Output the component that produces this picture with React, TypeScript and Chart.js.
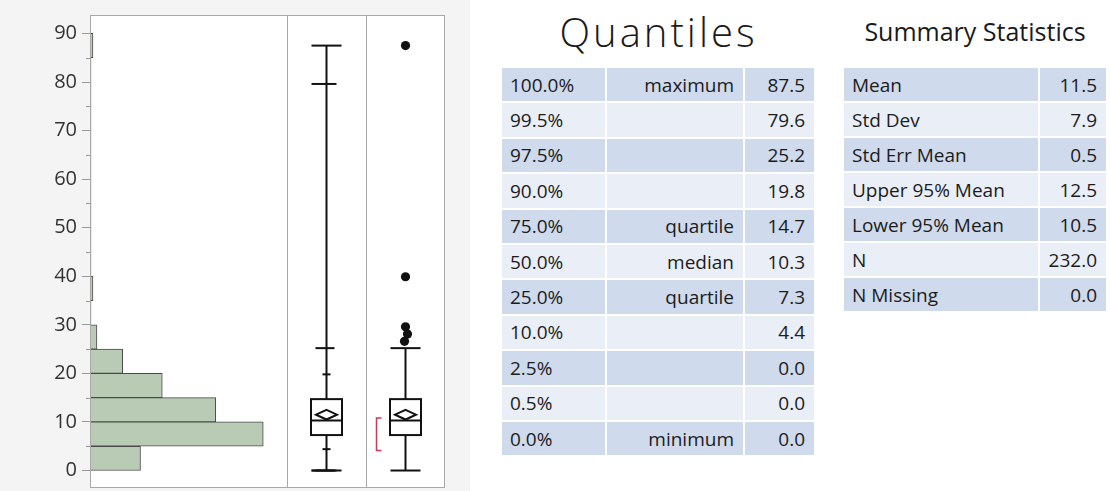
import React, { useEffect, useRef } from 'react';
import { Chart, registerables } from 'chart.js';

Chart.register(...registerables);

// Histogram bins (lower edge of each 5-unit bin) and their counts
const BIN_WIDTH = 5;
const binStarts = [0, 5, 10, 15, 20, 25, 30, 35, 40, 45, 50, 55, 60, 65, 70, 75, 80, 85];
const binCounts = [25, 87, 63, 36, 16, 3, 0, 1, 0, 0, 0, 0, 0, 0, 0, 0, 0, 1];

// Value axis
const yTickValues = [0, 10, 20, 30, 40, 50, 60, 70, 80, 90];
const yMinorTickValues = [5, 15, 25, 35, 45, 55, 65, 75, 85];
const Y_MIN = -3.6;
const Y_MAX = 93.8;
const COUNT_MAX = 99;

// Quantiles table
const quantileLevels = ['100.0%', '99.5%', '97.5%', '90.0%', '75.0%', '50.0%', '25.0%', '10.0%', '2.5%', '0.5%', '0.0%'];
const quantileNames = ['maximum', '', '', '', 'quartile', 'median', 'quartile', '', '', '', 'minimum'];
const quantileValues = [87.5, 79.6, 25.2, 19.8, 14.7, 10.3, 7.3, 4.4, 0.0, 0.0, 0.0];

// Summary statistics table
const summaryLabels = ['Mean', 'Std Dev', 'Std Err Mean', 'Upper 95% Mean', 'Lower 95% Mean', 'N', 'N Missing'];
const summaryValues = [11.5, 7.9, 0.5, 12.5, 10.5, 232.0, 0.0];

// Outlier box plot extras
const outlierValues = [87.5, 39.9, 29.6, 28.1, 26.6];
const whiskerLow = 0.0;
const whiskerHigh = 25.2;
const shortestHalf = [4.1, 10.8];

const q = (level: string) => quantileValues[quantileLevels.indexOf(level)];
const s = (label: string) => summaryValues[summaryLabels.indexOf(label)];

const PANEL_W = 79;
const FRAME = '#a8a8a8';
const INK = '#111111';

const panelPlugin = {
  id: 'distributionPanels',
  beforeDraw(chart: any) {
    const { ctx, chartArea, width, height } = chart;
    ctx.save();
    ctx.fillStyle = '#f4f4f4';
    ctx.fillRect(0, 0, width, height);
    ctx.fillStyle = '#ffffff';
    ctx.fillRect(chartArea.left, chartArea.top, chartArea.right - chartArea.left + 2 * PANEL_W, chartArea.bottom - chartArea.top);
    ctx.restore();
  },
  afterDraw(chart: any) {
    const { ctx, chartArea } = chart;
    const y = chart.scales.y;
    const L = chartArea.left;
    const T = chartArea.top;
    const B = chartArea.bottom;
    const p1L = chartArea.right;
    const p2L = p1L + PANEL_W;
    const R = p2L + PANEL_W;
    const py = (v: number) => y.getPixelForValue(v);

    ctx.save();
    // minor ticks on the value axis
    ctx.strokeStyle = '#9a9a9a';
    ctx.lineWidth = 1;
    yMinorTickValues.forEach((v) => {
      const yy = Math.round(py(v)) + 0.5;
      ctx.beginPath();
      ctx.moveTo(L - 5, yy);
      ctx.lineTo(L, yy);
      ctx.stroke();
    });

    // frame and panel dividers
    ctx.strokeStyle = FRAME;
    ctx.strokeRect(Math.round(L) - 0.5, Math.round(T) + 0.5, Math.round(R - L), Math.round(B - T) - 1);
    [p1L, p2L].forEach((x) => {
      ctx.beginPath();
      ctx.moveTo(Math.round(x) + 0.5, T);
      ctx.lineTo(Math.round(x) + 0.5, B);
      ctx.stroke();
    });

    ctx.strokeStyle = INK;
    ctx.fillStyle = INK;
    ctx.lineWidth = 2;
    const hline = (cx: number, v: number, left: number, right: number) => {
      const yy = py(v);
      ctx.beginPath();
      ctx.moveTo(cx - left, yy);
      ctx.lineTo(cx + right, yy);
      ctx.stroke();
    };
    const vline = (cx: number, v0: number, v1: number) => {
      ctx.beginPath();
      ctx.moveTo(cx, py(v0));
      ctx.lineTo(cx, py(v1));
      ctx.stroke();
    };
    const box = (cx: number) => {
      const top = py(q('75.0%'));
      const bot = py(q('25.0%'));
      ctx.fillStyle = '#ffffff';
      ctx.fillRect(cx - 15.5, top, 31, bot - top);
      ctx.strokeRect(cx - 15.5, top, 31, bot - top);
      hline(cx, q('50.0%'), 15.5, 15.5);
      // mean diamond spanning the 95% confidence interval
      const mTop = py(s('Upper 95% Mean'));
      const mBot = py(s('Lower 95% Mean'));
      const mMid = py(s('Mean'));
      ctx.beginPath();
      ctx.moveTo(cx, mTop);
      ctx.lineTo(cx + 10.5, mMid);
      ctx.lineTo(cx, mBot);
      ctx.lineTo(cx - 10.5, mMid);
      ctx.closePath();
      ctx.stroke();
    };

    // quantile box plot
    const c1 = (p1L + p2L) / 2;
    vline(c1, q('0.0%'), q('100.0%'));
    hline(c1, q('100.0%'), 15, 15);
    hline(c1, q('0.0%'), 15, 15);
    hline(c1, q('99.5%'), 15, 10);
    hline(c1, q('0.5%'), 15, 10);
    hline(c1, q('97.5%'), 11, 8);
    hline(c1, q('2.5%'), 11, 8);
    hline(c1, q('90.0%'), 4, 4);
    hline(c1, q('10.0%'), 4, 4);
    box(c1);

    // outlier box plot
    const c2 = (p2L + R) / 2;
    vline(c2, whiskerLow, whiskerHigh);
    hline(c2, whiskerHigh, 15, 15);
    hline(c2, whiskerLow, 15, 15);
    box(c2);
    const jitter = [0, 0, 0, 2, -1];
    ctx.fillStyle = INK;
    outlierValues.forEach((v, i) => {
      ctx.beginPath();
      ctx.arc(c2 + jitter[i], py(v), 4.6, 0, Math.PI * 2);
      ctx.fill();
    });

    // shortest half bracket
    ctx.strokeStyle = '#c8385c';
    ctx.lineWidth = 1.5;
    const bx = c2 - 29;
    ctx.beginPath();
    ctx.moveTo(bx + 5, py(shortestHalf[1]));
    ctx.lineTo(bx, py(shortestHalf[1]));
    ctx.lineTo(bx, py(shortestHalf[0]));
    ctx.lineTo(bx + 5, py(shortestHalf[0]));
    ctx.stroke();
    ctx.restore();
  },
};

const DARK = '#cfdaed';
const LIGHT = '#e9eef7';
const cellText: React.CSSProperties = {
  fontFamily: '"Open Sans", sans-serif',
  fontSize: 19,
  color: '#1c1c1c',
  display: 'flex',
  alignItems: 'center',
  padding: '0 9px 0 8px',
  whiteSpace: 'nowrap',
};

export default function App() {
  const ref = useRef<HTMLCanvasElement>(null);

  useEffect(() => {
    const canvas = ref.current!;
    const chart = new Chart(canvas, {
      type: 'bar',
      data: {
        datasets: [
          {
            data: binStarts.map((b, i) => ({ x: binCounts[i], y: b + BIN_WIDTH / 2 })),
            backgroundColor: '#b9cbb5',
            borderColor: '#4a4a4a',
            borderWidth: (c: any) => (binCounts[c.dataIndex] > 0 ? 1 : 0),
            barPercentage: 1,
            categoryPercentage: 1,
          } as any,
        ],
      },
      options: {
        indexAxis: 'y',
        animation: false,
        responsive: false,
        events: [],
        layout: { padding: { left: 0, top: 15, right: 470 - 287, bottom: 3 } },
        plugins: { legend: { display: false }, tooltip: { enabled: false } },
        scales: {
          x: { type: 'linear', min: 0, max: COUNT_MAX, display: false },
          y: {
            type: 'linear',
            min: Y_MIN,
            max: Y_MAX,
            offset: false,
            afterBuildTicks: (sc: any) => {
              sc.ticks = yTickValues.map((v) => ({ value: v }));
            },
            afterFit: (sc: any) => {
              sc.width = 91;
              sc.paddingTop = 0;
              sc.paddingBottom = 0;
            },
            grid: { offset: false, drawOnChartArea: false, drawTicks: true, tickLength: 9, color: '#9a9a9a' },
            border: { display: false },
            ticks: {
              font: { family: '"Open Sans", sans-serif', size: 20 },
              color: '#333333',
              padding: 5,
            },
          },
        },
      } as any,
      plugins: [panelPlugin],
    });
    return () => chart.destroy();
  }, []);

  return (
    <div style={{ position: 'absolute', left: 0, top: 0, width: 1110, height: 491, background: '#ffffff', overflow: 'hidden' }}>
      <canvas ref={ref} width={470} height={491} style={{ position: 'absolute', left: 0, top: 0 }} />

      <div
        style={{
          position: 'absolute',
          left: 502,
          width: 313,
          top: 12,
          textAlign: 'center',
          fontFamily: '"Open Sans", sans-serif',
          fontWeight: 300,
          fontSize: 40,
          lineHeight: '40px',
          color: '#1a1a1a',
          letterSpacing: 3,
        }}
      >
        Quantiles
      </div>
      <div
        style={{
          position: 'absolute',
          left: 502,
          top: 68,
          display: 'grid',
          gridTemplateColumns: '103px 136px 69px',
          gridAutoRows: '33.4px',
          gap: 2,
        }}
      >
        {quantileLevels.map((lv, i) => {
          const bg = i % 2 === 0 ? DARK : LIGHT;
          return (
            <React.Fragment key={lv + i}>
              <div style={{ ...cellText, background: bg }}>{lv}</div>
              <div style={{ ...cellText, background: bg, justifyContent: 'flex-end' }}>{quantileNames[i]}</div>
              <div style={{ ...cellText, background: bg, justifyContent: 'flex-end' }}>{quantileValues[i].toFixed(1)}</div>
            </React.Fragment>
          );
        })}
      </div>

      <div
        style={{
          position: 'absolute',
          left: 844,
          width: 262,
          top: 19,
          textAlign: 'center',
          fontFamily: '"Open Sans", sans-serif',
          fontSize: 25,
          lineHeight: '25px',
          color: '#1a1a1a',
        }}
      >
        Summary Statistics
      </div>
      <div
        style={{
          position: 'absolute',
          left: 844,
          top: 68,
          display: 'grid',
          gridTemplateColumns: '194px 66px',
          gridAutoRows: '33px',
          gap: 2,
        }}
      >
        {summaryLabels.map((lb, i) => {
          const bg = i % 2 === 0 ? DARK : LIGHT;
          return (
            <React.Fragment key={lb}>
              <div style={{ ...cellText, background: bg }}>{lb}</div>
              <div style={{ ...cellText, background: bg, justifyContent: 'flex-end' }}>{summaryValues[i].toFixed(1)}</div>
            </React.Fragment>
          );
        })}
      </div>
    </div>
  );
}
